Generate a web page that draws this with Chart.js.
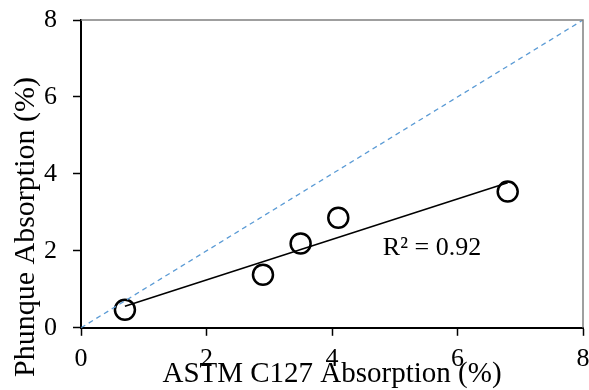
<!DOCTYPE html>
<html>
<head>
<meta charset="utf-8">
<script src="https://cdn.jsdelivr.net/npm/chart.js@4"></script>
<style>
  html, body { margin: 0; padding: 0; background: #fff; }
  #wrap { width: 589px; height: 390px; }
</style>
</head>
<body>
<div id="wrap"><canvas id="chart"></canvas></div>
<script>
const astmAbs = [0.7, 2.9, 3.5, 4.1, 6.8];
const phunqueAbs = [0.47, 1.38, 2.19, 2.86, 3.54];
const axisTicks = [0, 2, 4, 6, 8];
const xTitle = "ASTM C127 Absorption (%)";
const yTitle = "Phunque Absorption (%)";
const r2Label = "R² = 0.92";
const r2Pos = [4.81, 2.06]; // where the label sits, in data units

const serif = "'Liberation Serif', 'Times New Roman', serif";

// least squares trendline over the measured points
function fitLine(xs, ys) {
  const n = xs.length;
  const mx = xs.reduce((a, b) => a + b, 0) / n;
  const my = ys.reduce((a, b) => a + b, 0) / n;
  let sxy = 0, sxx = 0;
  for (let i = 0; i < n; i++) {
    sxy += (xs[i] - mx) * (ys[i] - my);
    sxx += (xs[i] - mx) * (xs[i] - mx);
  }
  const slope = sxy / sxx;
  return { slope: slope, icpt: my - slope * mx };
}

const fit = fitLine(astmAbs, phunqueAbs);
const xMin = Math.min(...astmAbs);
const xMax = Math.max(...astmAbs);
const trend = [xMin, xMax].map(x => ({ x: x, y: fit.icpt + fit.slope * x }));

const lo = axisTicks[0];
const hi = axisTicks[axisTicks.length - 1];
const equality = [{ x: lo, y: lo }, { x: hi, y: hi }];

const points = astmAbs.map((x, i) => ({ x: x, y: phunqueAbs[i] }));

// frame top/right, axis titles and the R² note
const extras = {
  id: "extras",
  afterDraw(chart) {
    const c = chart.ctx;
    const a = chart.chartArea;
    c.save();
    c.strokeStyle = "#808080";
    c.lineWidth = 1.5;
    c.beginPath();
    c.moveTo(a.left, a.top);
    c.lineTo(a.right, a.top);
    c.lineTo(a.right, a.bottom);
    c.stroke();

    c.fillStyle = "#000";
    c.font = "29px " + serif;
    c.textAlign = "center";
    c.textBaseline = "alphabetic";
    c.fillText(xTitle, (a.left + a.right) / 2, 382);

    c.save();
    c.font = "30px " + serif;
    c.translate(34, 227);
    c.rotate(-Math.PI / 2);
    c.fillText(yTitle, 0, 0);
    c.restore();

    const sx = chart.scales.x, sy = chart.scales.y;
    c.font = "26px " + serif;
    c.textAlign = "left";
    c.textBaseline = "middle";
    c.fillText(r2Label, sx.getPixelForValue(r2Pos[0]), sy.getPixelForValue(r2Pos[1]));
    c.restore();
  }
};

// the edge labels may hang over the outer margin, as in the original
function noOverhang(s) {
  s.paddingTop = 0;
  s.paddingBottom = 0;
  s.paddingLeft = 0;
  s.paddingRight = 0;
}

new Chart(document.getElementById("chart"), {
  type: "scatter",
  data: {
    datasets: [
      {
        label: "equality",
        data: equality,
        showLine: true,
        borderColor: "#5B9BD5",
        borderWidth: 1.3,
        borderDash: [5, 4],
        pointRadius: 0,
      },
      {
        label: "trend",
        data: trend,
        showLine: true,
        borderColor: "#000",
        borderWidth: 1.5,
        pointRadius: 0,
      },
      {
        label: "Phunque",
        data: points,
        borderColor: "#000",
        backgroundColor: "rgba(0,0,0,0)",
        borderWidth: 2.5,
        pointRadius: 10,
        pointHoverRadius: 10,
      },
    ],
  },
  options: {
    responsive: true,
    maintainAspectRatio: false,
    animation: false,
    layout: { autoPadding: false, padding: { left: 28, top: 20, right: 6, bottom: 7 } },
    scales: {
      x: {
        type: "linear",
        min: lo,
        max: hi,
        afterBuildTicks: s => { s.ticks = axisTicks.map(v => ({ value: v })); },
        afterFit: noOverhang,
        ticks: { color: "#000", font: { family: serif, size: 26 }, padding: 8 },
        grid: { drawOnChartArea: false, tickLength: 8, color: "#000", tickWidth: 1.5 },
        border: { color: "#000", width: 2 },
      },
      y: {
        type: "linear",
        min: lo,
        max: hi,
        afterBuildTicks: s => { s.ticks = axisTicks.map(v => ({ value: v })); },
        afterFit: noOverhang,
        ticks: { color: "#000", font: { family: serif, size: 26 }, padding: 16 },
        grid: { drawOnChartArea: false, tickLength: 8, color: "#000", tickWidth: 1.5 },
        border: { color: "#000", width: 2 },
      },
    },
    plugins: {
      legend: { display: false },
      tooltip: { enabled: false },
    },
  },
  plugins: [extras],
});
</script>
</body>
</html>
